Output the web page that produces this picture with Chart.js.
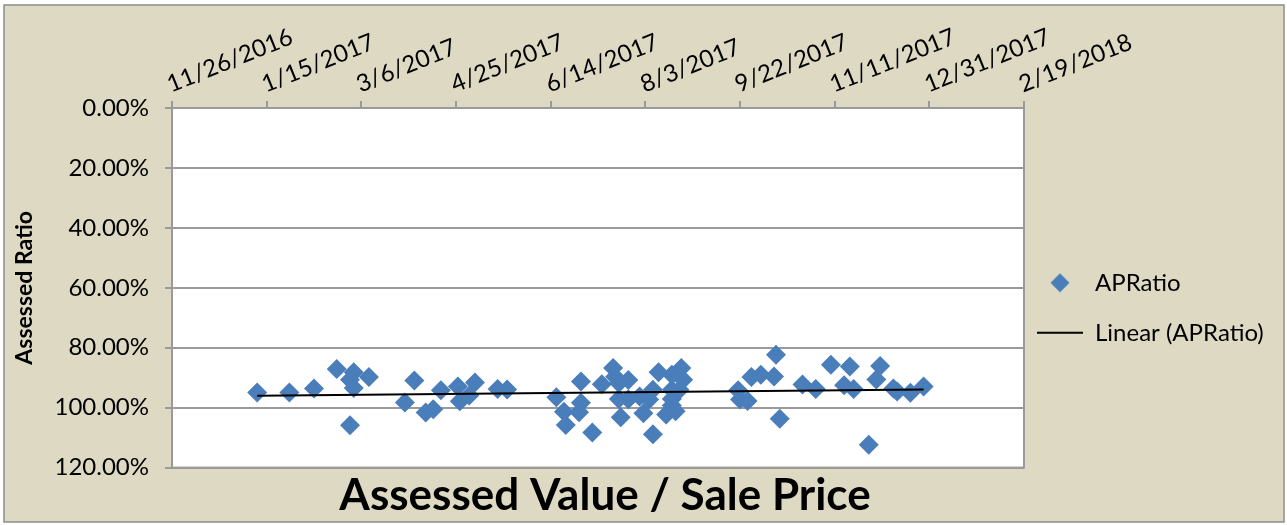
<!DOCTYPE html>
<html>
<head>
<meta charset="utf-8">
<title>APRatio</title>
<script src="https://cdn.jsdelivr.net/npm/chart.js@4/dist/chart.umd.min.js"></script>
<style>
  html, body { margin: 0; padding: 0; background: #fff; }
  #wrap { width: 1287px; height: 525px; }
</style>
</head>
<body>
<div id="wrap"><canvas id="ratioChart" width="1287" height="525"></canvas></div>
<script>
// sale dates and assessed / sale price ratios
const saleDates = [
  '1/10/2017', '1/27/2017', '2/9/2017', '2/21/2017', '3/2/2017', '2/28/2017', '3/2/2017', '2/28/2017',
  '3/10/2017', '3/29/2017', '4/3/2017', '4/9/2017', '4/13/2017', '4/17/2017', '4/26/2017', '4/27/2017',
  '5/2/2017', '5/5/2017', '5/17/2017', '5/22/2017', '6/17/2017', '6/30/2017', '6/21/2017', '6/30/2017',
  '6/29/2017', '6/22/2017', '7/6/2017', '7/11/2017', '7/17/2017', '7/18/2017', '7/20/2017', '7/25/2017',
  '7/20/2017', '7/21/2017', '7/25/2017', '7/31/2017', '8/2/2017', '8/5/2017', '8/7/2017', '8/7/2017',
  '8/10/2017', '8/14/2017', '8/17/2017', '8/19/2017', '8/22/2017', '8/23/2017', '8/17/2017', '8/17/2017',
  '8/17/2017', '8/21/2017', '9/21/2017', '9/22/2017', '9/26/2017', '9/28/2017', '10/3/2017', '10/10/2017',
  '10/11/2017', '10/13/2017', '10/25/2017', '11/1/2017', '11/9/2017', '11/16/2017', '11/19/2017', '11/21/2017',
  '12/5/2017', '12/3/2017', '11/29/2017', '12/12/2017', '12/14/2017', '12/21/2017', '12/28/2017'
];
const apRatios = [
  0.949, 0.949, 0.936, 0.871, 0.882, 0.907, 0.934, 1.059,
  0.898, 0.983, 0.909, 1.016, 1.005, 0.942, 0.929, 0.979,
  0.959, 0.916, 0.938, 0.939, 0.965, 0.913, 1.014, 0.984,
  1.015, 1.058, 1.083, 0.922, 0.868, 0.897, 0.918, 0.908,
  0.971, 1.032, 0.972, 0.963, 1.019, 0.973, 1.089, 0.940,
  0.882, 1.023, 0.993, 1.012, 0.868, 0.907, 0.940, 0.890,
  0.971, 0.940, 0.942, 0.973, 0.978, 0.898, 0.890, 0.896,
  0.823, 1.037, 0.923, 0.938, 0.857, 0.925, 0.863, 0.938,
  0.861, 0.906, 1.124, 0.936, 0.946, 0.950, 0.929
];
const xTickLabels = ['11/26/2016', '1/15/2017', '3/6/2017', '4/25/2017', '6/14/2017',
  '8/3/2017', '9/22/2017', '11/11/2017', '12/31/2017', '2/19/2018'];
const yTickValues = [0, 0.2, 0.4, 0.6, 0.8, 1.0, 1.2];

const FONT = 'Lato, "Open Sans", sans-serif';
const BLUE = '#4a7ebb';
const GRID = '#9a9a9a';
const PLOT_RIGHT = 1024; // right edge of the plot area in the original

function toTime(s) {
  const [m, d, y] = s.split('/').map(Number);
  return Date.UTC(y, m - 1, d);
}

const points = saleDates.map((d, i) => ({ x: toTime(d), y: apRatios[i] }));

// least squares line, same as Excel's linear trendline
function linearTrend(pts) {
  const n = pts.length;
  const mx = pts.reduce((s, p) => s + p.x, 0) / n;
  const my = pts.reduce((s, p) => s + p.y, 0) / n;
  let sxy = 0, sxx = 0;
  pts.forEach(p => {
    sxy += (p.x - mx) * (p.y - my);
    sxx += (p.x - mx) * (p.x - mx);
  });
  const slope = sxy / sxx;
  const xs = pts.map(p => p.x);
  const x0 = Math.min(...xs), x1 = Math.max(...xs);
  return [
    { x: x0, y: my + slope * (x0 - mx) },
    { x: x1, y: my + slope * (x1 - mx) }
  ];
}
const trend = linearTrend(points);

// diamond icon for the legend
const diamondIcon = document.createElement('canvas');
diamondIcon.width = 20;
diamondIcon.height = 20;
(function() {
  const c = diamondIcon.getContext('2d');
  c.fillStyle = BLUE;
  c.beginPath();
  c.moveTo(0.5, 10);
  c.lineTo(10, 0.5);
  c.lineTo(19.5, 10);
  c.lineTo(10, 19.5);
  c.closePath();
  c.fill();
})();

// beige chart background, outer frame and white plot area
const plotFrame = {
  id: 'plotFrame',
  beforeDraw(chart) {
    const { ctx, chartArea: a, width, height } = chart;
    ctx.save();
    ctx.fillStyle = '#fff';
    ctx.fillRect(0, 0, width, height);
    ctx.fillStyle = '#ddd9c3';
    ctx.fillRect(4, 5, width - 7, height - 8);
    ctx.strokeStyle = '#8c8c8c';
    ctx.lineWidth = 1.5;
    ctx.strokeRect(4, 5, width - 7, height - 8);
    ctx.fillStyle = '#fff';
    ctx.fillRect(a.left, a.top, a.width, a.height);
    ctx.strokeStyle = GRID;
    ctx.lineWidth = 2;
    ctx.strokeRect(a.left, a.top, a.width, a.height);
    ctx.restore();
  }
};

// move the legend block and title to where Excel put them
const blockNudge = {
  id: 'blockNudge',
  afterLayout(chart) {
    const lg = chart.legend;
    lg.left -= 13; lg.right -= 13;
    lg.top += 20; lg.bottom += 20;
    const tb = chart.titleBlock;
    tb.left += 7; tb.right += 7;
  }
};

const ctx = document.getElementById('ratioChart').getContext('2d');
const chart = new Chart(ctx, {
  type: 'scatter',
  data: {
    datasets: [
      {
        label: 'APRatio',
        data: points,
        pointStyle: 'rectRot',
        pointRadius: 10,
        pointHoverRadius: 10,
        backgroundColor: BLUE,
        borderWidth: 0,
        order: 2
      },
      {
        type: 'line',
        label: 'Linear (APRatio)',
        data: trend,
        borderColor: '#000',
        borderWidth: 2,
        pointRadius: 0,
        fill: false,
        order: 1
      }
    ]
  },
  options: {
    responsive: false,
    animation: false,
    devicePixelRatio: 1,
    layout: { padding: { left: 0, top: 0, right: 0, bottom: 0 } },
    plugins: {
      tooltip: { enabled: false },
      legend: {
        position: 'right',
        fullSize: false,
        labels: {
          usePointStyle: true,
          pointStyleWidth: 46,
          padding: 26,
          color: '#000',
          font: { family: FONT, size: 24 },
          generateLabels: (c) => c.data.datasets.map((ds, i) => ({
            text: ds.label,
            datasetIndex: i,
            pointStyle: i === 0 ? diamondIcon : 'line',
            fillStyle: i === 0 ? BLUE : '#000',
            strokeStyle: i === 0 ? BLUE : '#000',
            lineWidth: i === 0 ? 0 : 2,
            fontColor: '#000',
            hidden: false
          }))
        }
      },
      title: {
        display: true,
        position: 'bottom',
        fullSize: false,
        text: 'Assessed Value / Sale Price',
        color: '#000',
        font: { family: FONT, size: 44, weight: 'bold', lineHeight: 1.1 },
        padding: { top: 4, bottom: 5 }
      }
    },
    scales: {
      x: {
        type: 'linear',
        position: 'top',
        min: toTime(xTickLabels[0]),
        max: toTime(xTickLabels[xTickLabels.length - 1]),
        afterBuildTicks: (s) => { s.ticks = xTickLabels.map(l => ({ value: toTime(l) })); },
        afterFit: (s) => { s.height = 108; },
        ticks: {
          autoSkip: false,
          minRotation: 22,
          maxRotation: 22,
          padding: 2,
          labelOffset: 7,
          color: '#000',
          font: { family: FONT, size: 24 },
          callback: (v, i) => xTickLabels[i]
        },
        grid: { drawOnChartArea: false, tickLength: 7, tickColor: GRID, lineWidth: 2 },
        border: { color: GRID, width: 2 }
      },
      y: {
        reverse: true,
        min: 0,
        max: 1.2,
        afterBuildTicks: (s) => { s.ticks = yTickValues.map(v => ({ value: v })); },
        afterFit: (s) => { s.width = 172; },
        title: {
          display: true,
          text: 'Assessed Ratio',
          color: '#000',
          font: { family: FONT, size: 23, weight: 'bold' },
          padding: { top: 11, bottom: 0 }
        },
        ticks: {
          padding: 16,
          color: '#000',
          font: { family: FONT, size: 24 },
          callback: (v) => (v * 100).toFixed(2) + '%'
        },
        grid: { color: GRID, lineWidth: 2, tickLength: 7, tickColor: GRID },
        border: { color: GRID, width: 2 }
      }
    }
  },
  plugins: [plotFrame, blockNudge]
});

// the legend width depends on font metrics, so pin the plot's right edge
const gap = chart.chartArea.right - PLOT_RIGHT;
if (gap !== 0) {
  chart.options.layout.padding.right += gap;
  chart.update();
}
</script>
</body>
</html>
